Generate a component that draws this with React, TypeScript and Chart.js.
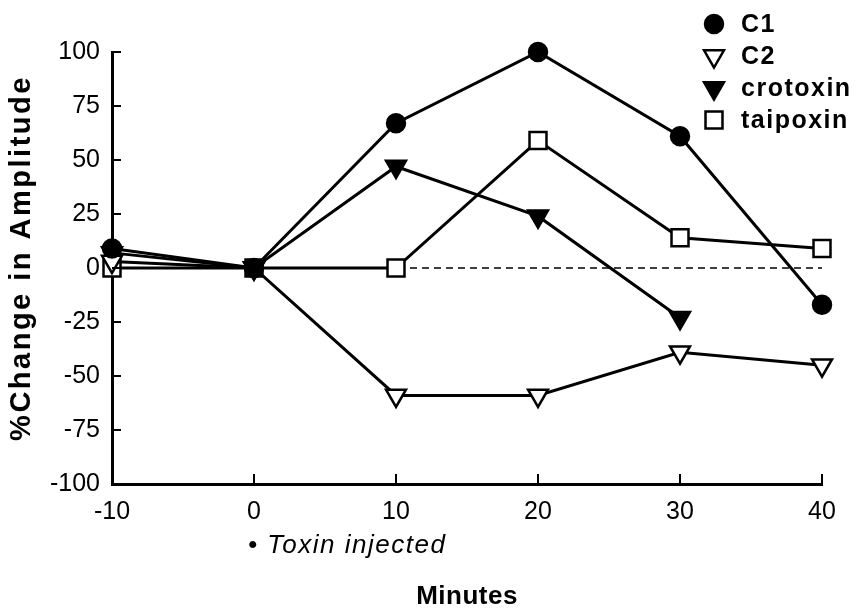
import React, { useEffect, useRef } from "react";
import { Chart, registerables } from "chart.js";

Chart.register(...registerables);

// ---- data ----
const minutes = [-10, 0, 10, 20, 30, 40];
const c1Values = [9, 0, 67, 100, 61, -17];
const c2Values = [3, 0, -59, -59, -39, -45];
const crotoxinValues: (number | null)[] = [7, 0, 47, 24, -23, null];
const taipoxinValues = [0, 0, 0, 59, 14, 9];
const zeroLineX = [0, 40];
const xTickValues = [-10, 0, 10, 20, 30, 40];
const yTickValues = [-100, -75, -50, -25, 0, 25, 50, 75, 100];
const seriesLabels = ["C1", "C2", "crotoxin", "taipoxin"];
const xAxisTitle = "Minutes";
const yAxisTitle = "%Change in Amplitude";
const injectionNote = "Toxin injected";

const FONT = '"Liberation Sans", Arial, Helvetica, sans-serif';

const toPoints = (vals: (number | null)[]) =>
  minutes.map((m, i) => ({ x: m, y: vals[i] })).filter((p) => p.y !== null);

function drawMarker(ctx: CanvasRenderingContext2D, ds: any, x: number, y: number) {
  const r = ds.pointRadius;
  ctx.save();
  ctx.fillStyle = ds.pointBackgroundColor;
  ctx.strokeStyle = ds.pointBorderColor;
  ctx.lineWidth = ds.pointBorderWidth;
  ctx.beginPath();
  if (ds.pointStyle === "circle") {
    ctx.arc(x, y, r, 0, Math.PI * 2);
  } else if (ds.pointStyle === "triangle") {
    for (let k = 0; k < 3; k++) {
      const a = Math.PI + (k * 2 * Math.PI) / 3;
      const px = x + Math.sin(a) * r;
      const py = y - Math.cos(a) * r;
      if (k === 0) ctx.moveTo(px, py);
      else ctx.lineTo(px, py);
    }
    ctx.closePath();
  } else {
    const s = r * Math.SQRT1_2;
    ctx.rect(x - s, y - s, 2 * s, 2 * s);
  }
  ctx.fill();
  ctx.stroke();
  ctx.restore();
}

const decorPlugin = {
  id: "decor",
  afterDraw(chart: any) {
    const ctx: CanvasRenderingContext2D = chart.ctx;
    const xs = chart.scales.x;
    const ys = chart.scales.y;
    const { left, right, bottom } = chart.chartArea;
    ctx.save();
    // inward tick marks
    ctx.strokeStyle = "#000";
    ctx.lineWidth = 2;
    xTickValues.forEach((v) => {
      const px = xs.getPixelForValue(v);
      ctx.beginPath();
      ctx.moveTo(px, bottom);
      ctx.lineTo(px, bottom - 10);
      ctx.stroke();
    });
    yTickValues.forEach((v) => {
      const py = ys.getPixelForValue(v);
      ctx.beginPath();
      ctx.moveTo(left, py);
      ctx.lineTo(left + 9, py);
      ctx.stroke();
    });

    ctx.fillStyle = "#000";
    // x axis title
    ctx.font = `bold 26px ${FONT}`;
    ctx.textAlign = "center";
    ctx.textBaseline = "middle";
    (ctx as any).letterSpacing = "0.5px";
    ctx.fillText(xAxisTitle, (left + right) / 2, 597);

    // y axis title
    ctx.save();
    ctx.translate(22, 258);
    ctx.rotate(-Math.PI / 2);
    ctx.font = `bold 29px ${FONT}`;
    (ctx as any).letterSpacing = "2.5px";
    ctx.fillText(yAxisTitle, 0, 0);
    ctx.restore();

    // injection note
    ctx.textAlign = "left";
    ctx.font = `italic 26px ${FONT}`;
    (ctx as any).letterSpacing = "1.5px";
    ctx.fillText("\u2022 " + injectionNote, xs.getPixelForValue(0) - 6, 546);

    // legend
    const datasets = chart.data.datasets.filter((d: any) => seriesLabels.includes(d.label));
    ctx.font = `bold 25px ${FONT}`;
    (ctx as any).letterSpacing = "1.5px";
    datasets.forEach((ds: any, i: number) => {
      const y = 24 + i * 32;
      drawMarker(ctx, ds, 714, y);
      ctx.fillStyle = "#000";
      ctx.fillText(ds.label, 741, y + 1);
    });
    (ctx as any).letterSpacing = "0px";
    ctx.restore();
  },
};

export default function App() {
  const ref = useRef<HTMLCanvasElement | null>(null);
  useEffect(() => {
    if (!ref.current) return;
    const line = {
      borderColor: "#000",
      borderWidth: 3,
      pointBorderColor: "#000",
      pointBorderWidth: 2.5,
      tension: 0,
      clip: false as any,
      showLine: true,
    };
    const chart = new Chart(ref.current, {
      type: "scatter",
      data: {
        datasets: [
          {
            ...line,
            label: seriesLabels[0],
            data: toPoints(c1Values),
            pointStyle: "circle",
            pointRadius: 9,
            pointBackgroundColor: "#000",
          },
          {
            ...line,
            label: seriesLabels[1],
            data: toPoints(c2Values),
            pointStyle: "triangle",
            pointRotation: 180,
            pointRadius: 11.5,
            pointBackgroundColor: "#fff",
          },
          {
            ...line,
            label: seriesLabels[2],
            data: toPoints(crotoxinValues),
            pointStyle: "triangle",
            pointRotation: 180,
            pointRadius: 11.5,
            pointBackgroundColor: "#000",
          },
          {
            ...line,
            label: seriesLabels[3],
            data: toPoints(taipoxinValues),
            pointStyle: "rect",
            pointRadius: 12,
            pointBackgroundColor: "#fff",
          },
          {
            label: "zero",
            data: zeroLineX.map((x) => ({ x, y: 0 })),
            showLine: true,
            borderColor: "#000",
            borderWidth: 1.5,
            borderDash: [7, 5],
            pointRadius: 0,
            order: 10,
          } as any,
        ],
      },
      options: {
        animation: false,
        responsive: false,
        devicePixelRatio: 1,
        events: [],
        layout: { padding: { left: 0, right: 34, top: 52, bottom: 0 } },
        plugins: { legend: { display: false }, tooltip: { enabled: false } },
        scales: {
          x: {
            type: "linear",
            min: -10,
            max: 40,
            afterBuildTicks: (s: any) => {
              s.ticks = xTickValues.map((v) => ({ value: v }));
            },
            afterFit: (s: any) => {
              s.height = 127;
            },
            grid: { display: true, drawOnChartArea: false, drawTicks: false },
            border: { display: true, color: "#000", width: 3 },
            ticks: {
              color: "#000",
              padding: 13,
              maxRotation: 0,
              autoSkip: false,
              font: { family: FONT, size: 25 },
            },
          },
          y: {
            type: "linear",
            min: -100,
            max: 100,
            afterBuildTicks: (s: any) => {
              s.ticks = yTickValues.map((v) => ({ value: v }));
            },
            afterFit: (s: any) => {
              s.width = 112;
            },
            grid: { display: true, drawOnChartArea: false, drawTicks: false },
            border: { display: true, color: "#000", width: 3 },
            ticks: {
              color: "#000",
              padding: 12,
              autoSkip: false,
              font: { family: FONT, size: 25 },
            },
          },
        },
      },
      plugins: [decorPlugin],
    });
    return () => chart.destroy();
  }, []);
  return (
    <div style={{ position: "absolute", left: 0, top: 0, width: 856, height: 611, background: "#fff" }}>
      <canvas ref={ref} width={856} height={611} style={{ display: "block" }} />
    </div>
  );
}
